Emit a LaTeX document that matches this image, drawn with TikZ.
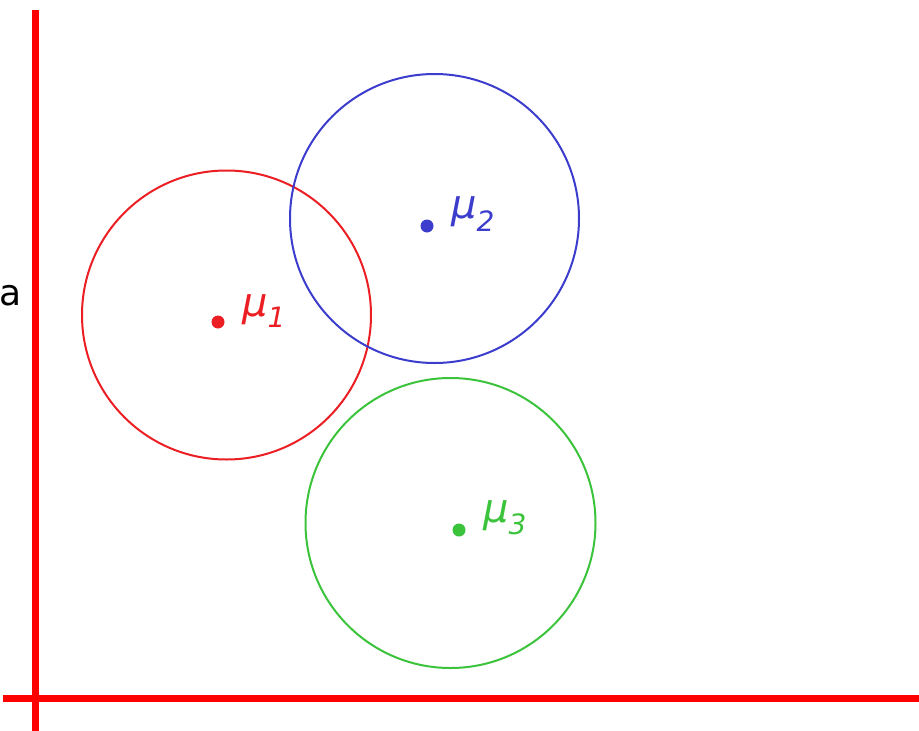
\documentclass[tikz,border=0pt]{standalone}
\usepackage{fontspec}
\setmainfont{DejaVu Sans}
\definecolor{cred}{RGB}{235,30,35}
\definecolor{cblue}{RGB}{60,60,205}
\definecolor{cgreen}{RGB}{60,195,60}
\begin{document}
\begin{tikzpicture}[x=1pt,y=-1pt,
  axis/.style={draw=red,line width=7pt},
  clus/.style={line width=2pt},
  ctr/.style={circle,inner sep=0pt,minimum size=13pt},
  lbl/.style={font=\fontsize{40}{42}\selectfont\itshape,inner sep=0pt,anchor=west}]
\useasboundingbox (0,0) rectangle (919,731);
\coordinate (vt) at (35,10);
\coordinate (vb) at (35,731);
\coordinate (hl) at (3,698);
\coordinate (hr) at (919,698);
\draw[axis] (vt) -- (vb);
\draw[axis] (hl) -- (hr);
\node[font=\fontsize{36}{38}\selectfont,inner sep=0pt,anchor=west] (a) at (-1,296) {a};
\draw[clus,draw=cred] (226.5,315) circle (144.5);
\draw[clus,draw=cblue] (434.5,218.5) circle (144.5);
\draw[clus,draw=cgreen] (450.5,523) circle (145);
\node[ctr,fill=cred] (m1) at (218,322) {};
\node[ctr,fill=cblue] (m2) at (427,226) {};
\node[ctr,fill=cgreen] (m3) at (459,530) {};
\node[lbl,text=cred] (l1) at (242,311) {μ\textsubscript{1}};
\node[lbl,text=cblue] (l2) at (451,214) {μ\textsubscript{2}};
\node[lbl,text=cgreen] (l3) at (483,518) {μ\textsubscript{3}};
\end{tikzpicture}
\end{document}
